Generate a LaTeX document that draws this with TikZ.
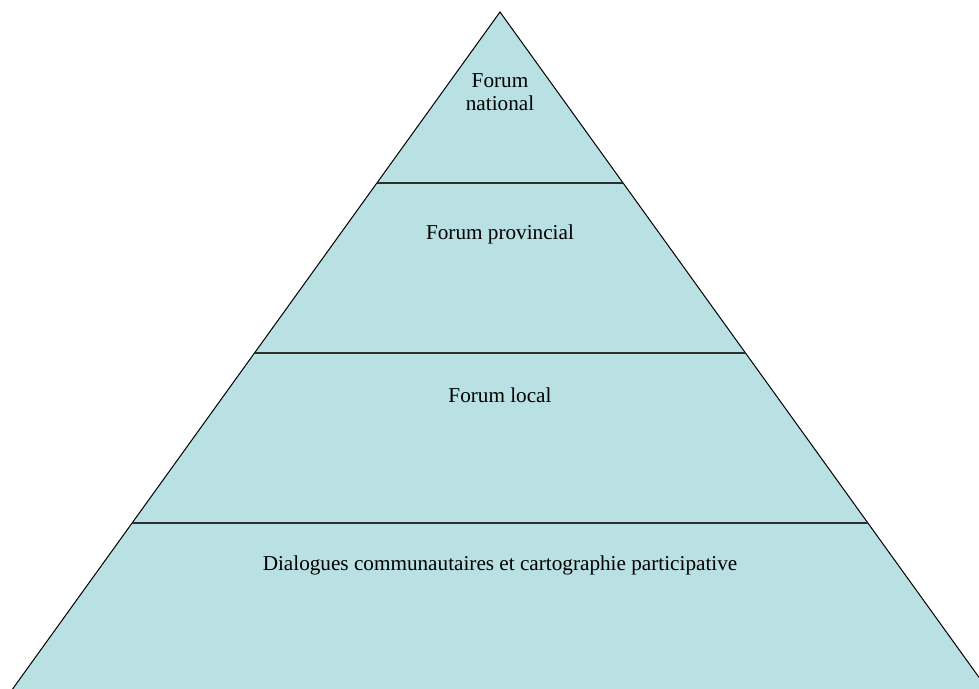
\documentclass[tikz,border=0pt]{standalone}
\usepackage{fontspec}
\setmainfont{Liberation Serif}
\usetikzlibrary{positioning}
\usetikzlibrary{calc}
\definecolor{pyrfill}{RGB}{185,224,227}
\definecolor{divline}{RGB}{45,48,48}

\begin{document}
\begin{tikzpicture}[x=0.5pt,y=-0.5pt,
  level/.style={font=\fontsize{10.6}{11.6}\selectfont,align=center,inner sep=0pt},
  divider/.style={draw=divline,line width=1pt}]
\useasboundingbox (0,0) rectangle (979,689);
\clip (0,0) rectangle (979,689);
\coordinate (top) at (500,12);
\coordinate (bl) at (12.6,689);
\coordinate (br) at (987.4,689);
\fill[pyrfill] (top) -- (bl) -- (br) -- cycle;
\draw[line width=0.5pt] (bl) -- (top) -- (br);
% level borders
\coordinate (l1) at ($(top)!0.2526!(bl)$);
\coordinate (r1) at ($(top)!0.2526!(br)$);
\coordinate (l2) at ($(top)!0.5037!(bl)$);
\coordinate (r2) at ($(top)!0.5037!(br)$);
\coordinate (l3) at ($(top)!0.7548!(bl)$);
\coordinate (r3) at ($(top)!0.7548!(br)$);
\path[divider]
  (l1) edge (r1)
  (l2) edge (r2)
  (l3) edge (r3);
% labels
\node[level] (national) at (500,92) {Forum\\national};
\node[level] (provincial) at (500,234) {Forum provincial};
\node[level] (local) at (500,395) {Forum local};
\node[level] (community) at (500,565) {Dialogues communautaires et cartographie participative};
\end{tikzpicture}
\end{document}
